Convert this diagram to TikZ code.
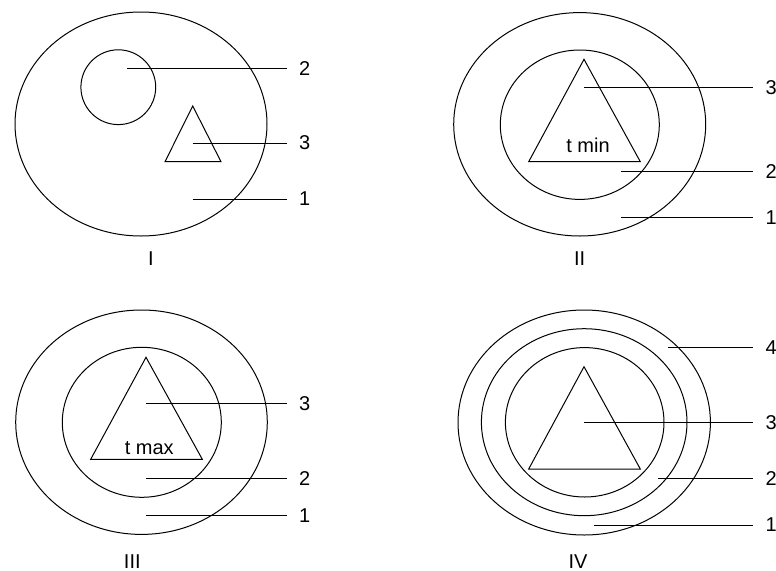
\documentclass[tikz,border=0pt]{standalone}
\usepackage{fontspec}
\setmainfont{Liberation Sans}

\begin{document}
\begin{tikzpicture}[x=1pt, y=-1pt, line width=1pt,
  lbl/.style={anchor=west, inner xsep=12pt, inner ysep=0pt, font=\fontsize{20}{22}\selectfont},
  roman/.style={inner sep=0pt, font=\fontsize{20}{22}\selectfont}]
  \useasboundingbox (0,0) rectangle (776,570);

  % ---- case I: separate inclusions ----
  \draw (141,124) ellipse [x radius=126, y radius=112];
  \draw (118.3,87.2) circle [radius=37.4];
  \draw (192.7,106) -- (165,161.7) -- (221,161.7) -- cycle;
  % labels
  \node[lbl] (a2) at (286.7,68.7) {2};
  \node[lbl] (a3) at (286.7,143) {3};
  \node[lbl] (a1) at (286.7,199) {1};
  \coordinate (pa2) at (127.3,68.7);
  \coordinate (pa3) at (192.7,143);
  \coordinate (pa1) at (192.7,199);
  \draw (pa2) -- (a2.west);
  \draw (pa3) -- (a3.west);
  \draw (pa1) -- (a1.west);
  \node[roman] (na) at (151,259) {I};

  % ---- case II: t min ----
  \draw (579.7,124.3) ellipse [x radius=126, y radius=111.7];
  \draw (579.8,124.7) ellipse [x radius=79.5, y radius=74.7];
  \draw (584,59.3) -- (528.7,161.7) -- (640.3,161.7) -- cycle;
  \node[roman] (tmin) at (588,145.7) {t min};
  % labels
  \node[lbl] (b3) at (753,87.3) {3};
  \node[lbl] (b2) at (753,171.3) {2};
  \node[lbl] (b1) at (753,217.7) {1};
  \coordinate (pb3) at (584,87.3);
  \coordinate (pb2) at (621.3,171.3);
  \coordinate (pb1) at (621.3,217.7);
  \draw (pb3) -- (b3.west);
  \draw (pb2) -- (b2.west);
  \draw (pb1) -- (b1.west);
  \node[roman] (nb) at (579.7,259) {II};

  % ---- case III: t max ----
  \draw (141.5,422.2) ellipse [x radius=125.8, y radius=112.2];
  \draw (141.8,422.3) ellipse [x radius=79.5, y radius=75];
  \draw (146,357.3) -- (90.7,459.3) -- (202.3,459.3) -- cycle;
  \node[roman] (tmax) at (149.3,448.3) {t max};
  % labels
  \node[lbl] (c3) at (286.7,403.7) {3};
  \node[lbl] (c2) at (286.7,478.7) {2};
  \node[lbl] (c1) at (286.7,515.7) {1};
  \coordinate (pc3) at (146,403.7);
  \coordinate (pc2) at (146,478.7);
  \coordinate (pc1) at (146,515.7);
  \draw (pc3) -- (c3.west);
  \draw (pc2) -- (c2.west);
  \draw (pc1) -- (c1.west);
  \node[roman] (nc) at (132.3,561.5) {III};

  % ---- case IV: extra layer ----
  \draw (584.2,422.5) ellipse [x radius=126.2, y radius=112.5];
  \draw (584.2,422.2) ellipse [x radius=102.8, y radius=93.5];
  \draw (584.7,422.3) ellipse [x radius=79.3, y radius=74.7];
  \draw (584,366.7) -- (528.7,469) -- (640.3,469) -- cycle;
  % labels
  \node[lbl] (d4) at (753,347.7) {4};
  \node[lbl] (d3) at (753,422.3) {3};
  \node[lbl] (d2) at (753,478.3) {2};
  \node[lbl] (d1) at (753,525) {1};
  \coordinate (pd4) at (668,347.7);
  \coordinate (pd3) at (584,422.3);
  \coordinate (pd2) at (658,478.3);
  \coordinate (pd1) at (593.7,525);
  \draw (pd4) -- (d4.west);
  \draw (pd3) -- (d3.west);
  \draw (pd2) -- (d2.west);
  \draw (pd1) -- (d1.west);
  \node[roman] (nd) at (578,561.5) {IV};

\end{tikzpicture}
\end{document}
